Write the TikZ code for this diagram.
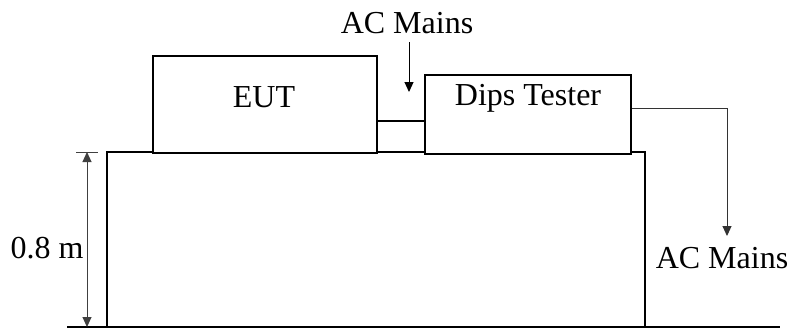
\documentclass[tikz,border=0pt]{standalone}
\usepackage{fontspec}
\setmainfont{Liberation Serif}
\usetikzlibrary{arrows.meta}
\begin{document}
\begin{tikzpicture}[x=0.5pt,y=-0.5pt,
  every node/.style={font=\fontsize{16}{19}\selectfont},
  box/.style={draw,line width=0.6pt,inner sep=0pt},
  lbl/.style={inner sep=0pt},
  wire/.style={line width=0.6pt},
  arr/.style={line width=0.5pt,-{Triangle[length=5pt,width=4.5pt]}},
  dim/.style={line width=0.5pt,draw=black!75,{Triangle[length=5pt,width=4.5pt]}-{Triangle[length=5pt,width=4.5pt]}}]
\useasboundingbox (0,0) rectangle (790,328);
% table
\node[box,minimum width=269pt,minimum height=87.5pt] (table) at (376,239.5) {};
% floor
\coordinate (fl) at (67,327);
\coordinate (fr) at (780,327);
\draw[wire] (fl) -- (fr);
% boxes
\node[box,fill=white,minimum width=112pt,minimum height=48.5pt] (eut) at (265,104.5) {};
\node[lbl] (eutT) at (264,97) {EUT};
\node[box,fill=white,minimum width=103pt,minimum height=39.5pt] (dips) at (528,114.5) {};
\node[lbl] (dipsT) at (528,98) {Dips Tester};
% connector between boxes
\coordinate (c1) at (0,121);
\draw[wire] (eut.east |- c1) -- (dips.west |- c1);
% top AC mains
\node[lbl] (acTop) at (407,23) {AC Mains};
\coordinate (tA) at (409,42);
\coordinate (tB) at (409,92);
\draw[arr] (tA) -- (tB);
% right AC mains
\node[lbl] (acRight) at (722,258) {AC Mains};
\coordinate (c2) at (0,108);
\coordinate (rc) at (727,108);
\coordinate (rt) at (727,236);
\draw[arr,draw=black!80] (dips.east |- c2) -- (rc) -- (rt);
% dimension
\coordinate (dT) at (87,152);
\coordinate (dB) at (87,327);
\coordinate (tkL) at (76,152);
\coordinate (tkR) at (98,152);
\draw[line width=0.5pt,black!75] (tkL) -- (tkR);
\draw[dim] (dB) -- (dT);
\node[lbl] (h) at (47,248) {0.8 m};
\end{tikzpicture}
\end{document}
